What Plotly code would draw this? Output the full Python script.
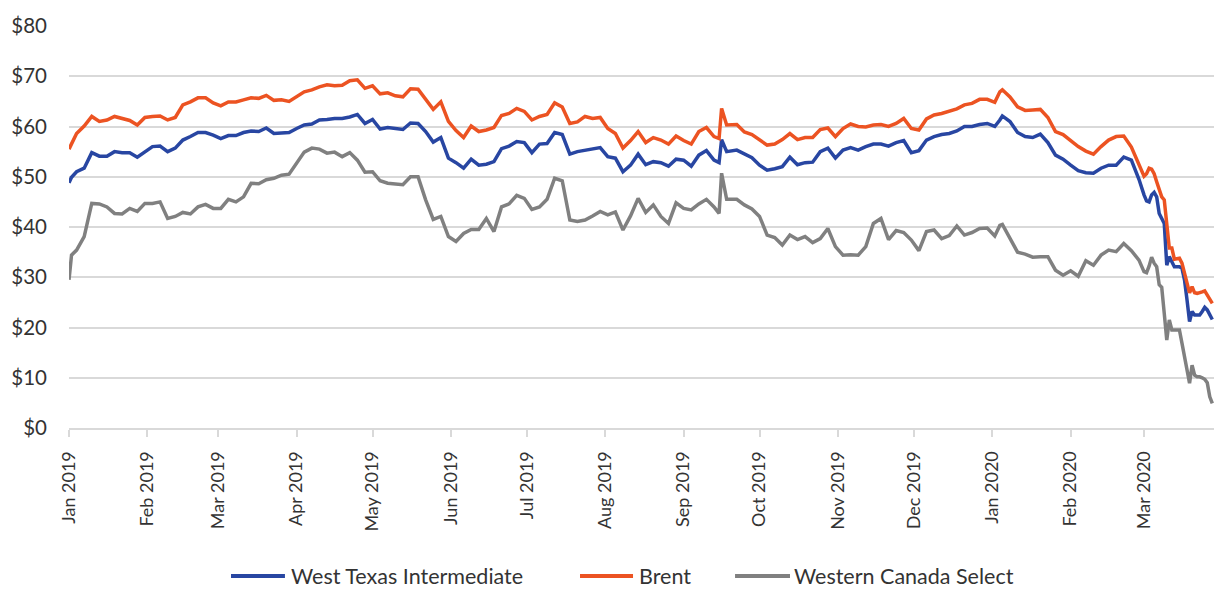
import plotly.graph_objects as go

# ---- sample dates (2019-01-01 .. 2020-03-28) ----
dates = [
    "2019-01-01", "2019-01-02", "2019-01-04", "2019-01-07", "2019-01-10", "2019-01-13", "2019-01-16",
    "2019-01-19", "2019-01-22", "2019-01-25", "2019-01-28", "2019-01-31",
    "2019-02-03", "2019-02-06", "2019-02-09", "2019-02-12", "2019-02-15", "2019-02-18", "2019-02-21",
    "2019-02-24", "2019-02-27",
    "2019-03-02", "2019-03-05", "2019-03-08", "2019-03-11", "2019-03-14", "2019-03-17", "2019-03-20",
    "2019-03-23", "2019-03-26", "2019-03-29",
    "2019-04-01", "2019-04-04", "2019-04-07", "2019-04-10", "2019-04-13", "2019-04-16", "2019-04-19",
    "2019-04-22", "2019-04-25", "2019-04-28",
    "2019-05-01", "2019-05-04", "2019-05-07", "2019-05-10", "2019-05-13", "2019-05-16", "2019-05-19",
    "2019-05-22", "2019-05-25", "2019-05-28", "2019-05-31",
    "2019-06-03", "2019-06-06", "2019-06-09", "2019-06-12", "2019-06-15", "2019-06-18", "2019-06-21",
    "2019-06-24", "2019-06-27", "2019-06-30",
    "2019-07-03", "2019-07-06", "2019-07-09", "2019-07-12", "2019-07-15", "2019-07-18", "2019-07-21",
    "2019-07-24", "2019-07-27", "2019-07-30",
    "2019-08-02", "2019-08-05", "2019-08-08", "2019-08-11", "2019-08-14", "2019-08-17", "2019-08-20",
    "2019-08-23", "2019-08-26", "2019-08-29",
    "2019-09-01", "2019-09-04", "2019-09-07", "2019-09-10", "2019-09-13", "2019-09-15", "2019-09-16",
    "2019-09-18", "2019-09-22", "2019-09-25", "2019-09-28",
    "2019-10-01", "2019-10-04", "2019-10-07", "2019-10-10", "2019-10-13", "2019-10-16", "2019-10-19",
    "2019-10-22", "2019-10-25", "2019-10-28", "2019-10-31",
    "2019-11-03", "2019-11-06", "2019-11-09", "2019-11-12", "2019-11-15", "2019-11-18", "2019-11-21",
    "2019-11-24", "2019-11-27", "2019-11-30",
    "2019-12-03", "2019-12-06", "2019-12-09", "2019-12-12", "2019-12-15", "2019-12-18", "2019-12-21",
    "2019-12-24", "2019-12-27", "2019-12-30",
    "2020-01-02", "2020-01-04", "2020-01-05", "2020-01-08", "2020-01-11", "2020-01-14", "2020-01-17",
    "2020-01-20", "2020-01-23", "2020-01-26", "2020-01-29",
    "2020-02-01", "2020-02-04", "2020-02-07", "2020-02-10", "2020-02-13", "2020-02-16", "2020-02-19",
    "2020-02-22", "2020-02-25", "2020-02-28",
    "2020-03-01", "2020-03-02", "2020-03-03", "2020-03-04", "2020-03-05", "2020-03-06", "2020-03-07",
    "2020-03-08", "2020-03-09", "2020-03-10", "2020-03-11", "2020-03-12", "2020-03-13", "2020-03-14",
    "2020-03-15", "2020-03-16", "2020-03-17", "2020-03-18", "2020-03-19", "2020-03-20", "2020-03-21",
    "2020-03-22", "2020-03-23", "2020-03-24", "2020-03-25", "2020-03-26", "2020-03-27", "2020-03-28",
]

# ---- West Texas Intermediate ($/bbl) ----
wti = [
    48.8, 49.9, 51.0, 51.7, 54.8, 54.1, 54.1, 55.0, 54.8, 54.8, 53.9, 55.0,
    56.0, 56.1, 55.0, 55.7, 57.3, 58.0, 58.8, 58.8, 58.3,
    57.6, 58.2, 58.2, 58.8, 59.1, 59.0, 59.7, 58.6, 58.7, 58.8,
    59.6, 60.3, 60.5, 61.3, 61.4, 61.6, 61.6, 61.9, 62.4, 60.6,
    61.4, 59.5, 59.8, 59.6, 59.4, 60.7, 60.6, 59.0, 56.9, 57.8, 53.7,
    52.8, 51.7, 53.5, 52.3, 52.5, 53.0, 55.6, 56.1, 57.0, 56.8,
    54.8, 56.5, 56.6, 58.8, 58.4, 54.5, 55.0, 55.3, 55.5, 55.8,
    54.0, 53.7, 51.0, 52.3, 54.5, 52.4, 53.0, 52.8, 52.1, 53.5,
    53.3, 52.1, 54.3, 55.2, 53.3, 52.8, 57.4, 55.0, 55.3, 54.5, 53.8,
    52.3, 51.3, 51.6, 52.0, 53.9, 52.4, 52.8, 52.9, 55.0, 55.7, 53.7,
    55.3, 55.8, 55.3, 56.0, 56.5, 56.5, 56.1, 56.8, 57.2, 54.8,
    55.2, 57.3, 58.0, 58.4, 58.6, 59.1, 60.0, 60.0, 60.4, 60.6,
    60.0, 61.3, 62.1, 61.0, 58.8, 58.0, 57.8, 58.5, 56.8, 54.3, 53.5,
    52.3, 51.2, 50.8, 50.7, 51.7, 52.3, 52.3, 53.9, 53.3, 49.5,
    46.4, 45.2, 45.0, 46.4, 46.9, 46.0, 42.7, 41.5, 40.7, 32.4, 34.1, 33.1, 32.1, 32.1,
    32.1, 31.8, 29.5, 25.5, 21.2, 23.2, 22.5, 22.5, 22.5, 23.2, 24.0, 23.5, 22.5, 21.6,
]

# ---- Brent ($/bbl) ----
brent = [
    55.5, 56.6, 58.6, 60.1, 62.0, 61.0, 61.3, 62.0, 61.6, 61.2, 60.3, 61.8,
    62.0, 62.1, 61.3, 61.8, 64.3, 64.9, 65.7, 65.7, 64.7,
    64.1, 64.9, 64.9, 65.3, 65.7, 65.6, 66.2, 65.2, 65.3, 65.0,
    65.9, 66.9, 67.3, 67.9, 68.3, 68.1, 68.2, 69.1, 69.3, 67.6,
    68.1, 66.5, 66.7, 66.1, 65.9, 67.5, 67.4, 65.3, 63.4, 64.9, 61.0,
    59.2, 57.8, 60.1, 59.0, 59.3, 59.8, 62.2, 62.6, 63.6, 63.0,
    61.3, 62.0, 62.4, 64.7, 63.9, 60.6, 60.9, 62.0, 61.6, 61.8,
    59.6, 58.6, 55.7, 57.2, 59.0, 56.8, 57.8, 57.3, 56.5, 58.1,
    57.2, 56.5, 59.0, 59.8, 58.0, 57.6, 63.6, 60.3, 60.4, 58.9, 58.4,
    57.4, 56.3, 56.5, 57.4, 58.6, 57.4, 57.8, 57.8, 59.4, 59.7, 58.0,
    59.6, 60.5, 60.0, 59.9, 60.3, 60.4, 60.0, 60.6, 61.6, 59.6,
    59.3, 61.5, 62.3, 62.6, 63.0, 63.5, 64.3, 64.6, 65.4, 65.4,
    64.8, 66.9, 67.3, 65.9, 63.9, 63.2, 63.3, 63.4, 61.8, 59.0, 58.4,
    57.1, 56.0, 55.1, 54.5, 56.0, 57.3, 58.0, 58.1, 55.9, 52.3,
    50.1, 50.6, 51.7, 51.5, 50.6, 49.0, 47.2, 46.0, 45.4, 40.1, 35.8, 35.8, 33.6, 33.7,
    33.8, 32.8, 30.9, 28.5, 26.9, 28.1, 26.9, 26.8, 26.9, 27.1, 27.3, 26.5, 25.6, 24.8,
]

# ---- Western Canada Select ($/bbl) ----
wcs = [
    29.5, 34.4, 35.4, 38.1, 44.7, 44.6, 44.0, 42.7, 42.6, 43.7, 43.1, 44.7,
    44.7, 45.0, 41.7, 42.1, 42.9, 42.6, 44.0, 44.5, 43.7,
    43.7, 45.5, 45.0, 46.0, 48.7, 48.6, 49.4, 49.7, 50.3, 50.5,
    52.7, 54.9, 55.7, 55.5, 54.7, 54.9, 54.0, 54.8, 53.3, 50.9,
    51.0, 49.2, 48.7, 48.6, 48.4, 50.0, 50.0, 45.4, 41.5, 42.1, 38.1,
    37.1, 38.7, 39.5, 39.5, 41.7, 39.1, 44.0, 44.6, 46.3, 45.7,
    43.5, 44.0, 45.5, 49.7, 49.2, 41.4, 41.1, 41.4, 42.2, 43.1,
    42.4, 43.0, 39.4, 42.2, 45.7, 42.9, 44.4, 42.1, 40.7, 44.8,
    43.7, 43.4, 44.6, 45.5, 44.0, 42.7, 50.7, 45.5, 45.5, 44.4, 43.6,
    42.1, 38.4, 37.9, 36.4, 38.4, 37.5, 38.1, 36.9, 37.7, 39.7, 36.1,
    34.4, 34.5, 34.4, 36.1, 40.7, 41.7, 37.5, 39.3, 38.9, 37.4,
    35.3, 39.1, 39.4, 37.7, 38.3, 40.2, 38.4, 38.9, 39.7, 39.8,
    38.2, 40.3, 40.5, 37.7, 35.0, 34.6, 34.0, 34.1, 34.1, 31.4, 30.4,
    31.3, 30.2, 33.3, 32.4, 34.4, 35.4, 35.1, 36.7, 35.3, 33.4,
    31.1, 30.9, 32.2, 34.0, 32.8, 32.1, 28.5, 28.0, 22.8, 17.5, 21.5, 19.5, 19.5, 19.5,
    19.5, 16.9, 14.2, 11.5, 8.9, 12.5, 10.5, 10.2, 10.2, 10.0, 9.7, 9.0, 6.2, 4.9,
]

series_names = ["West Texas Intermediate", "Brent", "Western Canada Select"]
series_colors = ["#2846A2", "#EC5322", "#808080"]
y_ticks = [0, 10, 20, 30, 40, 50, 60, 70, 80]
y_tick_labels = ["$0", "$10", "$20", "$30", "$40", "$50", "$60", "$70", "$80"]

assert len(dates) == len(wti) == len(brent) == len(wcs), (len(dates), len(wti), len(brent), len(wcs))

FONT = "Lato, 'Open Sans', Arial, sans-serif"
TEXT = "#333333"
GRID = "#d9d9d9"

fig = go.Figure()
for name, vals, col in zip(series_names, [wti, brent, wcs], series_colors):
    fig.add_trace(go.Scatter(
        x=dates, y=vals, name=name, mode="lines",
        line=dict(color=col, width=3.5),
        hoverinfo="x+y+name", showlegend=False,
    ))

# custom legend (line swatch + label), placed below the axis
legend_x = [(0.1415, 0.1886, 0.193), (0.4463, 0.4926, 0.497), (0.5817, 0.6297, 0.6323)]
legend_y = -0.368
shapes = []
annotations = []
for (x0, x1, xt), name, col in zip(legend_x, series_names, series_colors):
    shapes.append(dict(type="line", xref="paper", yref="paper",
                       x0=x0, x1=x1, y0=legend_y, y1=legend_y,
                       line=dict(color=col, width=4)))
    annotations.append(dict(xref="paper", yref="paper", x=xt, y=legend_y,
                            xanchor="left", yanchor="middle", showarrow=False,
                            borderpad=0,
                            text=name, font=dict(family=FONT, size=21.5, color=TEXT)))

fig.update_layout(
    width=1214, height=591,
    margin=dict(l=69, r=0, t=26, b=163, autoexpand=False),
    paper_bgcolor="white", plot_bgcolor="white",
    font=dict(family=FONT, color=TEXT, size=18),
    showlegend=False,
    shapes=shapes,
    annotations=annotations,
    xaxis=dict(
        type="date",
        range=["2019-01-01", "2020-03-28 16:00"],
        dtick="M1", tick0="2019-01-01", tickformat="%b %Y",
        tickangle=-90,
        tickfont=dict(family=FONT, size=18, color=TEXT),
        ticks="outside", ticklen=7, tickcolor=GRID, tickwidth=1.5,
        ticklabelstandoff=7,
        showline=True, linecolor=GRID, linewidth=2,
        showgrid=False, zeroline=False, automargin=False,
    ),
    yaxis=dict(
        range=[0, 80],
        tickvals=y_ticks, ticktext=y_tick_labels,
        tickfont=dict(family=FONT, size=20.5, color=TEXT),
        showgrid=True, gridcolor=GRID, gridwidth=2,
        zeroline=False, showline=False, ticks="",
        ticklabelstandoff=21, automargin=False,
    ),
)

# remove the browser's default page margin so the 1214x591 figure fills the window exactly
fig.write_html(
    "out.html",
    config={"displayModeBar": False},
    post_script="document.body.style.margin='0';document.body.style.overflow='hidden';",
)
